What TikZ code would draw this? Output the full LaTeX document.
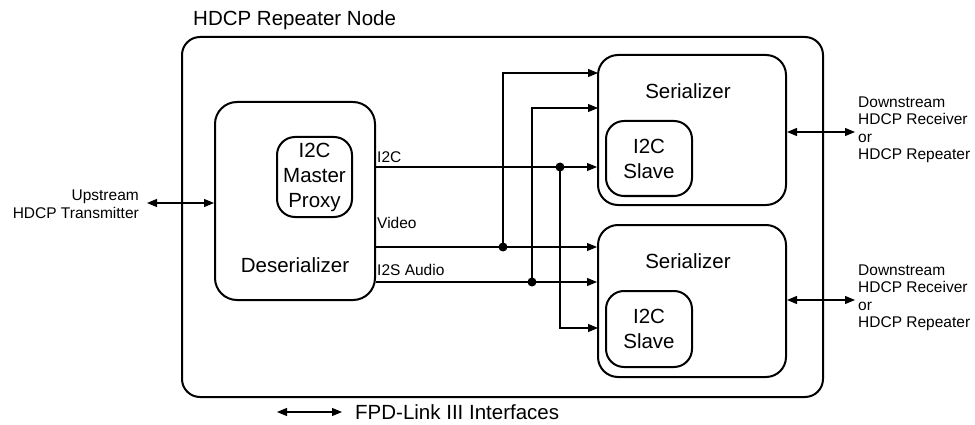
\documentclass[tikz,border=0pt]{standalone}
\usepackage{fontspec}
\setmainfont{Liberation Sans}
\usetikzlibrary{arrows.meta}
\begin{document}
\begin{tikzpicture}[x=1pt,y=-1pt,
  blk/.style={draw,line width=2pt,rounded corners=18pt,inner sep=0pt},
  big/.style={font=\fontsize{20.5}{25}\selectfont},
  small/.style={font=\fontsize{15.5}{17.5}\selectfont},
  txt/.style={inner sep=0pt},
  sig/.style={line width=1.1pt,-{Triangle[length=10pt,width=8pt]}},
  bidir/.style={line width=1.1pt,{Triangle[length=10pt,width=8pt]}-{Triangle[length=10pt,width=8pt]}},
  dot/.style={circle,fill,inner sep=0pt,minimum size=9pt}]
\useasboundingbox (0,0) rectangle (975,425);

% repeater node frame
\node[blk,minimum width=641pt,minimum height=360pt] (outer) at (502.5,217) {};
\node[big,txt,anchor=base west] (title) at (193,26) {HDCP Repeater Node};

% deserializer with its I2C master proxy
\node[blk,rounded corners=22pt,minimum width=160pt,minimum height=198pt] (des) at (295,201) {};
\node[big,txt,anchor=base] (destxt) at (295,272) {Deserializer};
\node[blk,big,align=center,minimum width=75pt,minimum height=80pt] (mp) at (314.5,177) {I2C\\Master\\Proxy};

% serializers with their I2C slaves
\node[blk,rounded corners=20pt,minimum width=188pt,minimum height=150pt] (ser1) at (692,130) {};
\node[big,txt,anchor=base] (ser1txt) at (688,99) {Serializer};
\node[blk,big,align=center,minimum width=86pt,minimum height=75pt] (sl1) at (649,158.5) {I2C\\Slave};

\node[blk,rounded corners=20pt,minimum width=188pt,minimum height=152pt] (ser2) at (692,301) {};
\node[big,txt,anchor=base] (ser2txt) at (688,268) {Serializer};
\node[blk,big,align=center,minimum width=86pt,minimum height=76pt] (sl2) at (649,329) {I2C\\Slave};

% junctions and branch end points
\coordinate (ji) at (560,167);
\coordinate (jv) at (503,247);
\coordinate (ja) at (532,282);
\coordinate (vin) at (598,73);
\coordinate (ain) at (598,108);
\coordinate (iin) at (598,328);

% main signal lines
\draw[sig] (des.east |- ji) -- (ser1.west |- ji);
\draw[sig] (des.east |- jv) -- (ser2.west |- jv);
\draw[sig] (des.east |- ja) -- (ser2.west |- ja);
% branches to the other serializer
\draw[sig] (jv) |- (vin);
\draw[sig] (ja) |- (ain);
\draw[sig] (ji) |- (iin);
\node[dot] (di) at (ji) {};
\node[dot] (dv) at (jv) {};
\node[dot] (da) at (ja) {};

% signal labels
\node[small,txt,anchor=base west] (li2c) at (377,163) {I2C};
\node[small,txt,anchor=base west] (lvid) at (377,228) {Video};
\node[small,txt,anchor=base west] (laud) at (377,275) {I2S Audio};

% upstream link
\coordinate (up) at (147,203);
\draw[bidir] (up) -- (des.west |- up);
\node[small,txt,align=right,anchor=east] (uptxt) at (139,204) {Upstream\\HDCP Transmitter};

% downstream links
\coordinate (dn1) at (855,132);
\coordinate (dn2) at (855,300);
\draw[bidir] (ser1.east |- dn1) -- (dn1);
\draw[bidir] (ser2.east |- dn2) -- (dn2);
\node[small,txt,align=left,anchor=west] (dn1txt) at (858,130) {Downstream\\HDCP Receiver\\or\\HDCP Repeater};
\node[small,txt,align=left,anchor=west] (dn2txt) at (858,298) {Downstream\\HDCP Receiver\\or\\HDCP Repeater};

% legend
\coordinate (lg1) at (277,412);
\coordinate (lg2) at (342,412);
\draw[bidir] (lg1) -- (lg2);
\node[big,txt,anchor=base west] (lgtxt) at (355,419.5) {FPD-Link III Interfaces};
\end{tikzpicture}
\end{document}
